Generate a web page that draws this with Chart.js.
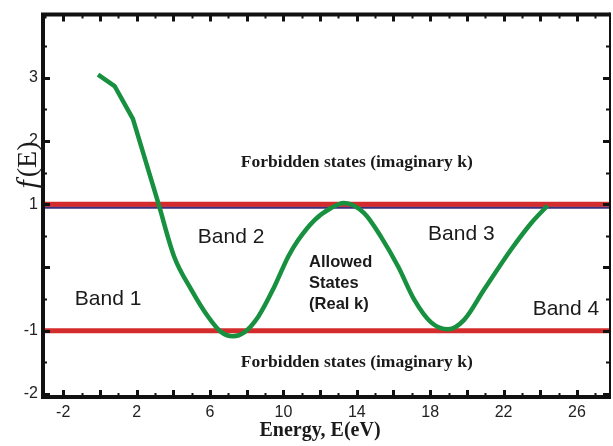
<!DOCTYPE html>
<html>
<head>
<meta charset="utf-8">
<script src="https://cdn.jsdelivr.net/npm/chart.js@4.4.1/dist/chart.umd.min.js"></script>
<style>
  html, body { margin: 0; padding: 0; background: #fff; }
  #wrap { width: 613px; height: 446px; }
</style>
</head>
<body>
<div id="wrap"><canvas id="c"></canvas></div>
<script>
// ── Data ──────────────────────────────────────────────────
const energy = [-0.1, 0.8, 1.8, 3.2, 4.05, 4.98, 5.9, 6.6, 7.26, 7.86, 8.63, 9.5, 10.26, 10.8, 11.7, 12.6, 13.3, 14.4, 15.33, 16.26, 17.13, 18.05, 18.98, 19.85, 20.94, 22.4, 23.5, 24.4];
const fValues = [3.05, 2.87, 2.35, 1.0, 0.17, -0.35, -0.78, -1.02, -1.09, -1.03, -0.78, -0.31, 0.17, 0.43, 0.75, 0.94, 1.02, 0.86, 0.48, 0.01, -0.51, -0.87, -0.98, -0.83, -0.35, 0.28, 0.70, 0.98];
const bandEdges = [1, -1];
const xTickLabels = [-2, 2, 6, 10, 14, 18, 22, 26];
const yTickLabels = [-2, -1, 1, 2, 3];
const xRange = [-3.1, 27.8];
const yRange = [-2.05, 4];
const straightPoints = 4; // first part of the curve is drawn with straight segments

// annotations (data coords)
const serifBold = 'bold 17.5px "Liberation Serif", "Times New Roman", serif';
const sansBand = '21px "Liberation Sans", Arial, sans-serif';
const sansBold = 'bold 16.5px "Liberation Sans", Arial, sans-serif';
const notes = [
  { text: 'Forbidden states (imaginary k)', x: 14.0, y: 1.66, font: serifBold, align: 'center' },
  { text: 'Forbidden states (imaginary k)', x: 14.0, y: -1.51, font: serifBold, align: 'center' },
  { text: 'Band 1', x: 0.45, y: -0.5, font: sansBand, align: 'center' },
  { text: 'Band 2', x: 7.15, y: 0.48, font: sansBand, align: 'center' },
  { text: 'Band 3', x: 19.7, y: 0.53, font: sansBand, align: 'center' },
  { text: 'Band 4', x: 25.4, y: -0.66, font: sansBand, align: 'center' },
  { text: 'Allowed', x: 11.4, y: 0.08, font: sansBold, align: 'left' },
  { text: 'States', x: 11.4, y: -0.25, font: sansBold, align: 'left' },
  { text: '(Real k)', x: 11.4, y: -0.58, font: sansBold, align: 'left' },
];

const curve = energy.map((e, i) => ({ x: e, y: fValues[i] }));
const curveHead = curve.slice(0, straightPoints);
const curveTail = curve.slice(straightPoints - 1);
const edgeLine = (v) => [{ x: xRange[0], y: v }, { x: xRange[1], y: v }];

// ── Frame, inward ticks, annotations ─────────────────────
const framePlugin = {
  id: 'frame',
  afterDraw(chart) {
    const { ctx, chartArea: a, scales } = chart;
    const xs = scales.x, ys = scales.y;
    ctx.save();
    ctx.strokeStyle = '#111';
    ctx.lineCap = 'butt';

    // x ticks, bottom and top
    for (let v = -3; v <= 27; v += 1) {
      const px = Math.round(xs.getPixelForValue(v)) + 0.5;
      const major = v % 2 === 0;
      ctx.lineWidth = major ? 3 : 2;
      const len = major ? 7 : 4;
      ctx.beginPath();
      ctx.moveTo(px, a.bottom); ctx.lineTo(px, a.bottom - len);
      ctx.moveTo(px, a.top); ctx.lineTo(px, a.top + len);
      ctx.stroke();
    }
    // y ticks, left and right
    for (let v = -2; v <= 3.9; v += 0.5) {
      const py = Math.round(ys.getPixelForValue(v)) + 0.5;
      const major = Number.isInteger(v);
      ctx.lineWidth = major ? 3 : 2;
      const len = major ? 7 : 4;
      ctx.beginPath();
      ctx.moveTo(a.left, py); ctx.lineTo(a.left + len, py);
      ctx.moveTo(a.right, py); ctx.lineTo(a.right - len, py);
      ctx.stroke();
    }

    // frame
    ctx.lineWidth = 4;
    ctx.beginPath();
    ctx.moveTo(a.right, a.top); ctx.lineTo(a.left, a.top);
    ctx.lineTo(a.left, a.bottom); ctx.lineTo(a.right, a.bottom);
    ctx.stroke();
    ctx.lineWidth = 2;
    ctx.beginPath();
    ctx.moveTo(a.right, a.top - 2); ctx.lineTo(a.right, a.bottom + 2);
    ctx.stroke();

    // annotations
    ctx.fillStyle = '#1a1a1a';
    ctx.textBaseline = 'middle';
    notes.forEach((n) => {
      ctx.font = n.font;
      ctx.textAlign = n.align;
      ctx.fillText(n.text, xs.getPixelForValue(n.x), ys.getPixelForValue(n.y));
    });

    // x title
    ctx.textAlign = 'center';
    ctx.font = 'bold 20px "Liberation Serif", "Times New Roman", serif';
    ctx.fillText('Energy, E(eV)', 320, 431);

    // y title: italic f + (E), rotated
    ctx.translate(29, 165);
    ctx.rotate(-Math.PI / 2);
    ctx.textAlign = 'left';
    const fFont = 'italic 30px "Liberation Serif", "Times New Roman", serif';
    const eFont = '28px "Liberation Serif", "Times New Roman", serif';
    ctx.font = fFont;
    const fw = ctx.measureText('f').width;
    ctx.font = eFont;
    const ew = ctx.measureText('(E)').width;
    const start = -(fw + 3 + ew) / 2;
    ctx.font = fFont;
    ctx.fillText('f', start, 0);
    ctx.font = eFont;
    ctx.fillText('(E)', start + fw + 3, 0);
    ctx.restore();
  },
};

const greenLine = {
  borderColor: '#17903f',
  borderWidth: 4.5,
  pointRadius: 0,
  fill: false,
  order: 0,
};

new Chart(document.getElementById('c'), {
  type: 'line',
  data: {
    datasets: [
      { ...greenLine, label: 'f(E) head', data: curveHead, tension: 0, borderJoinStyle: 'round' },
      { ...greenLine, label: 'f(E)', data: curveTail, cubicInterpolationMode: 'monotone' },
      {
        label: 'edge navy',
        data: edgeLine(bandEdges[0] - 0.05),
        borderColor: '#3b2f7e',
        borderWidth: 2.5,
        pointRadius: 0,
        order: 3,
      },
      {
        label: 'upper edge',
        data: edgeLine(bandEdges[0]),
        borderColor: '#d42c2c',
        borderWidth: 5,
        pointRadius: 0,
        order: 2,
      },
      {
        label: 'lower edge',
        data: edgeLine(bandEdges[1]),
        borderColor: '#d42c2c',
        borderWidth: 5,
        pointRadius: 0,
        order: 2,
      },
    ],
  },
  options: {
    responsive: true,
    maintainAspectRatio: false,
    animation: false,
    layout: { padding: { top: 12, right: 3, left: 0, bottom: 0 } },
    plugins: { legend: { display: false }, tooltip: { enabled: false } },
    scales: {
      x: {
        type: 'linear',
        min: xRange[0],
        max: xRange[1],
        border: { display: false },
        grid: { display: false, drawTicks: false },
        afterBuildTicks: (s) => { s.ticks = xTickLabels.map((v) => ({ value: v })); },
        afterFit: (s) => { s.height = 49; },
        ticks: {
          padding: 6,
          color: '#222',
          font: { family: '"Liberation Sans", Arial, sans-serif', size: 16 },
          autoSkip: false,
          maxRotation: 0,
        },
      },
      y: {
        type: 'linear',
        min: yRange[0],
        max: yRange[1],
        border: { display: false },
        grid: { display: false, drawTicks: false },
        afterBuildTicks: (s) => { s.ticks = yTickLabels.map((v) => ({ value: v })); },
        afterFit: (s) => { s.width = 43; },
        ticks: {
          padding: 5,
          color: '#222',
          font: { family: '"Liberation Sans", Arial, sans-serif', size: 16 },
        },
      },
    },
  },
  plugins: [framePlugin],
});
</script>
</body>
</html>
